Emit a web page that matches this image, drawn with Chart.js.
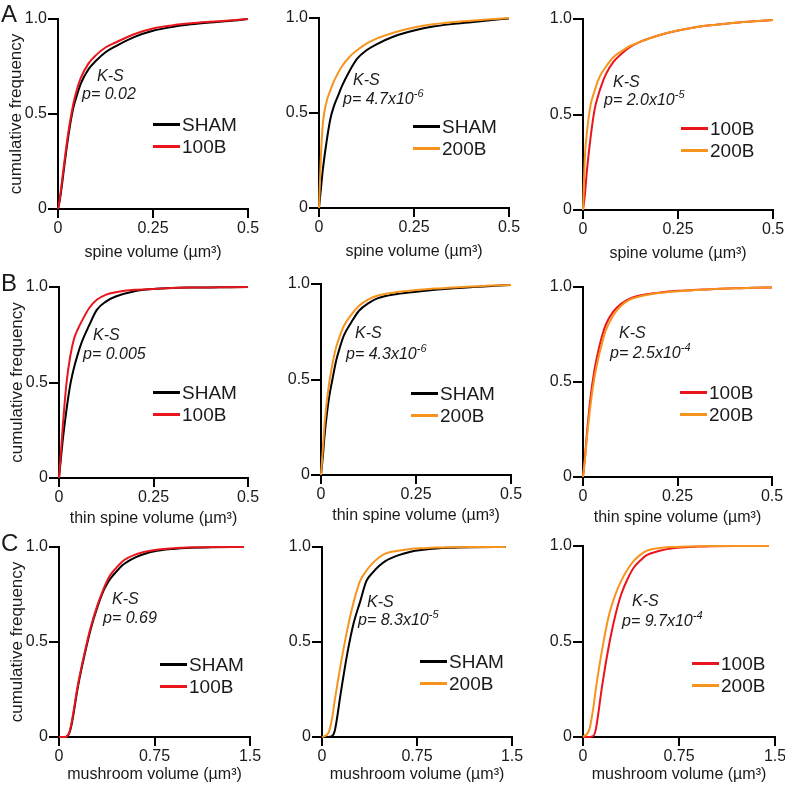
<!DOCTYPE html>
<html>
<head>
<meta charset="utf-8">
<script src="https://cdn.jsdelivr.net/npm/chart.js@4.4.1/dist/chart.umd.min.js"></script>
<style>
    html, body { margin: 0; padding: 0; background: #fff; }
    #fig { position: relative; width: 785px; height: 785px; overflow: hidden;
           font-family: "Liberation Sans", Arial, sans-serif; color: #1a1a1a; }
    #fig canvas { position: absolute; }
    .txt { position: absolute; white-space: nowrap; line-height: 1; }
    .ks { font-size: 16px; font-style: italic; }
    .ks sup { font-size: 11px; vertical-align: 0; position: relative; top: -7px; }
    .leg { font-size: 19px; }
    .swatch { position: absolute; width: 27px; height: 3px; }
    .letter { font-size: 24px; }
</style>
</head>
<body>
<div id="fig"></div>
<script>
// ---------- Data ----------
var spineX = [0, 0.005, 0.01, 0.02, 0.03, 0.04, 0.05, 0.06, 0.08, 0.1, 0.125, 0.15, 0.2, 0.25, 0.3, 0.35, 0.4, 0.45, 0.5];
var mushX = [0, 0.05, 0.08, 0.1, 0.15, 0.2, 0.25, 0.3, 0.35, 0.4, 0.45, 0.5, 0.6, 0.7, 0.8, 0.9, 1.0, 1.2, 1.45];

// A: spine volume
var spineSham1 = [0, 0.05, 0.12, 0.28, 0.42, 0.53, 0.60, 0.66, 0.735, 0.78, 0.825, 0.855, 0.905, 0.938, 0.958, 0.972, 0.982, 0.99, 1.0];
var spine100B1 = [0, 0.06, 0.14, 0.30, 0.44, 0.55, 0.63, 0.69, 0.765, 0.81, 0.85, 0.875, 0.92, 0.95, 0.966, 0.977, 0.985, 0.992, 1.0];
var spineSham2 = [0, 0.10, 0.20, 0.35, 0.47, 0.54, 0.59, 0.64, 0.72, 0.785, 0.83, 0.86, 0.905, 0.934, 0.955, 0.968, 0.978, 0.988, 0.998];
var spine200B2 = [0, 0.27, 0.44, 0.56, 0.62, 0.67, 0.71, 0.745, 0.795, 0.83, 0.865, 0.89, 0.925, 0.95, 0.967, 0.978, 0.986, 0.993, 1.0];
var spine100B3 = [0, 0.08, 0.20, 0.38, 0.52, 0.60, 0.66, 0.71, 0.775, 0.815, 0.855, 0.88, 0.915, 0.94, 0.958, 0.97, 0.98, 0.988, 0.995];
var spine200B3 = [0, 0.28, 0.40, 0.55, 0.62, 0.68, 0.72, 0.75, 0.80, 0.83, 0.86, 0.88, 0.915, 0.94, 0.958, 0.97, 0.98, 0.988, 0.995];

// B: thin spine volume
var thinSham1 = [0, 0.10, 0.20, 0.36, 0.49, 0.58, 0.65, 0.71, 0.80, 0.88, 0.925, 0.95, 0.978, 0.99, 0.995, 0.997, 0.998, 0.999, 1.0];
var thin100B1 = [0, 0.13, 0.27, 0.50, 0.64, 0.73, 0.78, 0.82, 0.89, 0.933, 0.96, 0.972, 0.985, 0.99, 0.995, 0.997, 0.998, 0.999, 1.0];
var thinSham2 = [0, 0.10, 0.22, 0.39, 0.50, 0.60, 0.67, 0.73, 0.80, 0.86, 0.90, 0.926, 0.948, 0.96, 0.97, 0.978, 0.984, 0.99, 0.995];
var thin200B2 = [0, 0.14, 0.28, 0.46, 0.58, 0.67, 0.73, 0.78, 0.84, 0.886, 0.92, 0.94, 0.958, 0.968, 0.976, 0.982, 0.987, 0.992, 0.995];
var thin100B3 = [0, 0.10, 0.22, 0.42, 0.56, 0.66, 0.74, 0.80, 0.87, 0.91, 0.94, 0.955, 0.97, 0.98, 0.985, 0.99, 0.993, 0.996, 0.998];
var thin200B3 = [0, 0.09, 0.20, 0.38, 0.52, 0.62, 0.70, 0.77, 0.85, 0.90, 0.935, 0.95, 0.968, 0.978, 0.984, 0.99, 0.993, 0.996, 0.998];

// C: mushroom volume
var mushSham1 = [0, 0, 0.02, 0.07, 0.27, 0.43, 0.57, 0.68, 0.77, 0.83, 0.87, 0.905, 0.945, 0.97, 0.983, 0.99, 0.995, 0.999, 1.0];
var mush100B1 = [0, 0, 0.02, 0.08, 0.28, 0.44, 0.58, 0.69, 0.78, 0.85, 0.89, 0.925, 0.96, 0.978, 0.988, 0.994, 0.997, 1.0, 1.0];
var mushSham2 = [0, 0, 0.005, 0.03, 0.24, 0.44, 0.60, 0.71, 0.82, 0.865, 0.90, 0.926, 0.956, 0.975, 0.985, 0.992, 0.996, 0.999, 1.0];
var mush200B2 = [0, 0.02, 0.10, 0.19, 0.39, 0.565, 0.71, 0.82, 0.875, 0.915, 0.945, 0.965, 0.98, 0.99, 0.994, 0.997, 0.999, 1.0, 1.0];
var mush100B3 = [0, 0, 0.005, 0.04, 0.27, 0.47, 0.63, 0.75, 0.83, 0.89, 0.925, 0.953, 0.975, 0.988, 0.994, 0.997, 0.999, 1.0, 1.0];
var mush200B3 = [0, 0.04, 0.15, 0.25, 0.46, 0.63, 0.74, 0.82, 0.88, 0.925, 0.955, 0.976, 0.99, 0.995, 0.997, 0.999, 1.0, 1.0, 1.0];

// Ticks
var yTicks = [0, 0.5, 1];
var yTickLabels = ['0', '0.5', '1.0'];
var spineTicks = [0, 0.25, 0.5];
var spineTickLabels = ['0', '0.25', '0.5'];
var mushTicks = [0, 0.75, 1.5];
var mushTickLabels = ['0', '0.75', '1.5'];

// K-S p values (mantissa, exponent)
var pText = ['0.02', '4.7x10', '2.0x10', '0.005', '4.3x10', '2.5x10', '0.69', '8.3x10', '9.7x10'];
var pExp = ['', '-6', '-5', '', '-6', '-4', '', '-5', '-4'];

// ---------- Styles ----------
var FONT = '"Liberation Sans", Arial, sans-serif';
var INK = '#1a1a1a';
var seriesColors = { 'SHAM': '#000000', '100B': '#e8161c', '200B': '#f7941e' };

// ---------- Panel layout (plot rect: left, top, right, bottom) ----------
var spineTitle = 'spine volume (\u00b5m\u00b3)';
var thinTitle = 'thin spine volume (\u00b5m\u00b3)';
var mushTitle = 'mushroom volume (\u00b5m\u00b3)';

var panels = [
    { plot: [58, 19, 248, 209], x: spineX, xMax: 0.5, ticks: spineTicks, labels: spineTickLabels, title: spineTitle, axisH: 53, yTitle: true,
      series: [['SHAM', spineSham1], ['100B', spine100B1]], ks: [97, 76], p: [82, 94], leg: [153, 124] },
    { plot: [319, 18, 509, 208], x: spineX, xMax: 0.5, ticks: spineTicks, labels: spineTickLabels, title: spineTitle, axisH: 53,
      series: [['SHAM', spineSham2], ['200B', spine200B2]], ks: [353, 80], p: [343, 99], leg: [413, 126] },
    { plot: [583, 19, 773, 210], x: spineX, xMax: 0.5, ticks: spineTicks, labels: spineTickLabels, title: spineTitle, axisH: 53,
      series: [['100B', spine100B3], ['200B', spine200B3]], ks: [613, 82], p: [604, 100], leg: [681, 128] },

    { plot: [59, 287, 248, 478], x: spineX, xMax: 0.5, ticks: spineTicks, labels: spineTickLabels, title: thinTitle, axisH: 50, yTitle: true,
      series: [['SHAM', thinSham1], ['100B', thin100B1]], ks: [93, 335], p: [83, 354], leg: [153, 392] },
    { plot: [321, 284, 511, 475], x: spineX, xMax: 0.5, ticks: spineTicks, labels: spineTickLabels, title: thinTitle, axisH: 50,
      series: [['SHAM', thinSham2], ['200B', thin200B2]], ks: [355, 333], p: [346, 354], leg: [411, 393] },
    { plot: [583, 287, 772, 477], x: spineX, xMax: 0.5, ticks: spineTicks, labels: spineTickLabels, title: thinTitle, axisH: 50,
      series: [['100B', thin100B3], ['200B', thin200B3]], ks: [619, 333], p: [610, 353], leg: [680, 392] },

    { plot: [59, 547, 250, 737], x: mushX, xMax: 1.5, ticks: mushTicks, labels: mushTickLabels, title: mushTitle, axisH: 47, yTitle: true,
      series: [['SHAM', mushSham1], ['100B', mush100B1]], ks: [112, 599], p: [103, 618], leg: [160, 664] },
    { plot: [322, 547, 512, 737], x: mushX, xMax: 1.5, ticks: mushTicks, labels: mushTickLabels, title: mushTitle, axisH: 47,
      series: [['SHAM', mushSham2], ['200B', mush200B2]], ks: [367, 602], p: [358, 620], leg: [420, 661] },
    { plot: [583, 546, 775, 737], x: mushX, xMax: 1.5, ticks: mushTicks, labels: mushTickLabels, title: mushTitle, axisH: 47,
      series: [['100B', mush100B3], ['200B', mush200B3]], ks: [632, 601], p: [622, 621], leg: [692, 663] }
];

var letters = [['A', 1, 2], ['B', 1, 271], ['C', 1, 531]];

var fig = document.getElementById('fig');

// ---------- Helpers ----------
function addText(cls, html, left, cy, size) {
    var d = document.createElement('div');
    d.className = 'txt ' + cls;
    d.innerHTML = html;
    d.style.left = left + 'px';
    d.style.top = (cy - size / 2) + 'px';
    fig.appendChild(d);
    return d;
}

function makeChart(p) {
    var Y_W = 58, PAD_T = 14, PAD_R = 16;
    var w = p.plot[2] - p.plot[0];
    var h = p.plot[3] - p.plot[1];

    var canvas = document.createElement('canvas');
    canvas.width = Y_W + w + PAD_R;
    canvas.height = PAD_T + h + p.axisH;
    canvas.style.left = (p.plot[0] - Y_W) + 'px';
    canvas.style.top = (p.plot[1] - PAD_T) + 'px';
    fig.appendChild(canvas);

    var datasets = p.series.map(function(s, idx) {
        return {
            label: s[0],
            data: p.x.map(function(x, i) { return { x: x, y: s[1][i] }; }),
            borderColor: seriesColors[s[0]],
            borderWidth: 2,
            pointRadius: 0,
            fill: false,
            cubicInterpolationMode: 'monotone',
            clip: false,
            order: idx === 0 ? 1 : 0
        };
    });

    new Chart(canvas, {
        type: 'line',
        data: { datasets: datasets },
        options: {
            responsive: false,
            animation: false,
            events: [],
            layout: { padding: { top: PAD_T, right: PAD_R, left: 0, bottom: 0 } },
            plugins: { legend: { display: false }, tooltip: { enabled: false } },
            scales: {
                x: {
                    type: 'linear',
                    min: 0,
                    max: p.xMax,
                    afterBuildTicks: function(s) { s.ticks = p.ticks.map(function(v) { return { value: v }; }); },
                    afterFit: function(s) { s.height = p.axisH; },
                    ticks: {
                        callback: function(v, i) { return p.labels[i]; },
                        font: { size: 16, family: FONT },
                        color: INK,
                        padding: 1,
                        maxRotation: 0,
                        autoSkip: false
                    },
                    grid: { drawOnChartArea: false, drawTicks: true, tickLength: 9, color: '#000', lineWidth: 2 },
                    border: { display: true, color: '#000', width: 2 },
                    title: { display: true, text: p.title, font: { size: 16, family: FONT }, color: INK, padding: 0 }
                },
                y: {
                    type: 'linear',
                    min: 0,
                    max: 1,
                    afterBuildTicks: function(s) { s.ticks = yTicks.map(function(v) { return { value: v }; }); },
                    afterFit: function(s) { s.width = Y_W; },
                    ticks: {
                        callback: function(v, i) { return yTickLabels[i]; },
                        font: { size: 16, family: FONT },
                        color: INK,
                        padding: 1,
                        autoSkip: false
                    },
                    grid: { drawOnChartArea: false, drawTicks: true, tickLength: 10, color: '#000', lineWidth: 2 },
                    border: { display: true, color: '#000', width: 2 },
                    title: { display: !!p.yTitle, text: 'cumulative frequency', font: { size: 17, family: FONT },
                             color: INK, padding: { top: 6, bottom: 0 } }
                }
            }
        }
    });
}

function addAnnotations(p, idx) {
    // K-S test label and p value
    addText('ks', 'K-S', p.ks[0], p.ks[1], 16);
    var ptxt = 'p= ' + pText[idx] + (pExp[idx] ? '<sup>' + pExp[idx] + '</sup>' : '');
    addText('ks', ptxt, p.p[0], p.p[1], 16);

    // Legend rows
    p.series.forEach(function(s, i) {
        var cy = p.leg[1] + i * 22;
        var sw = document.createElement('div');
        sw.className = 'swatch';
        sw.style.background = seriesColors[s[0]];
        sw.style.left = p.leg[0] + 'px';
        sw.style.top = (cy - 1.5) + 'px';
        fig.appendChild(sw);
        addText('leg', s[0], p.leg[0] + 29, cy, 19);
    });
}

// ---------- Build ----------
panels.forEach(function(p, i) {
    makeChart(p);
    addAnnotations(p, i);
});

letters.forEach(function(l) {
    var d = document.createElement('div');
    d.className = 'txt letter';
    d.textContent = l[0];
    d.style.left = l[1] + 'px';
    d.style.top = l[2] + 'px';
    fig.appendChild(d);
});
</script>
</body>
</html>
